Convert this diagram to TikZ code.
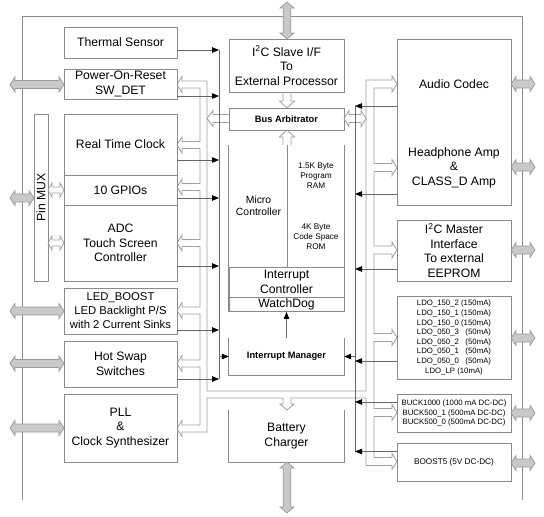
\documentclass[tikz,border=0pt]{standalone}
\usepackage{fontspec}
\setmainfont{Liberation Sans}
\usetikzlibrary{arrows.meta}
\definecolor{boxc}{HTML}{8A8A8A}
\definecolor{busc}{HTML}{A0A0A0}
\definecolor{intc}{HTML}{666666}
\definecolor{gfill}{HTML}{C9C9C9}
\definecolor{gline}{HTML}{9A9A9A}
\newcommand\fA{\fontsize{12.2}{14.6}\selectfont}
\newcommand\fLED{\fontsize{11.3}{14}\selectfont}
\newcommand\fS{\fontsize{7.8}{9.6}\selectfont}
\newcommand\fM{\fontsize{8.2}{10}\selectfont}
\newcommand\fMC{\fontsize{10.4}{12.5}\selectfont}
\newcommand\fB{\fontsize{9.3}{11}\selectfont\bfseries}
\newcommand\grayH[3]{\draw[garr] (#1,#3) -- (#1+5,#3-7.5) -- (#1+5,#3-4) -- (#2-5,#3-4) -- (#2-5,#3-7.5) -- (#2,#3) -- (#2-5,#3+7.5) -- (#2-5,#3+4) -- (#1+5,#3+4) -- (#1+5,#3+7.5) -- cycle;}
\newcommand\grayV[3]{\draw[garr] (#1,#2) -- (#1-7,#2+6) -- (#1-3.8,#2+6) -- (#1-3.8,#3-6) -- (#1-7,#3-6) -- (#1,#3) -- (#1+7,#3-6) -- (#1+3.8,#3-6) -- (#1+3.8,#2+6) -- (#1+7,#2+6) -- cycle;}
\newcommand\hollowLR[3]{\draw[bus] (#1,#3) -- (#1+4,#3-7) -- (#1+4,#3-3) -- (#2-4,#3-3) -- (#2-4,#3-7) -- (#2,#3) -- (#2-4,#3+7) -- (#2-4,#3+3) -- (#1+4,#3+3) -- (#1+4,#3+7) -- cycle;}
\tikzset{
  blk/.style={draw=boxc, line width=0.9pt, inner sep=0pt, align=center, font=\fA},
  lbl/.style={inner sep=0pt, align=center, font=\fA},
  boxln/.style={draw=boxc, line width=0.9pt},
  bus/.style={draw=busc, line width=0.8pt, line join=miter},
  intl/.style={draw=intc, line width=0.8pt},
  intr/.style={intl, -{Triangle[length=7pt,width=5.5pt,color=black]}},
  garr/.style={draw=gline, fill=gfill, line width=0.7pt},
  frm/.style={draw=boxc, line width=0.9pt},
  lw/.style={minimum width=113pt},
  cw/.style={minimum width=115pt},
  rw/.style={minimum width=114pt}
}
\begin{document}
\begin{tikzpicture}[x=1pt,y=-1pt]
\useasboundingbox (0,0) rectangle (544,517);
% frame
\draw[frm] (22,500) -- (22,16) -- (522,16) -- (522,500);

% ---------- left column ----------
\node[blk, lw, minimum height=31pt] (therm) at (120.5,42.5) {Thermal Sensor};
\node[blk, lw, minimum height=30pt] (por) at (120.5,84) {Power-On-Reset\\SW\_DET};
\node[blk, lw, minimum height=61pt] (rtc) at (120.5,144.5) {Real Time Clock};
\node[blk, lw, minimum height=30pt] (gpio) at (120.5,190) {10 GPIOs};
\node[blk, lw, minimum height=76pt] (adc) at (120.5,243) {ADC\\Touch Screen\\Controller};
\node[blk, minimum width=14pt, minimum height=167pt] (pinmux) at (41,197.5) {};
\node[rotate=90, font=\fA, inner sep=0pt] (pinmuxlbl) at (pinmux.center) {Pin MUX};
\node[blk, lw, font=\fLED, minimum height=46pt] (led) at (120.5,311) {LED\_BOOST\\LED Backlight P/S\\with 2 Current Sinks};
\node[blk, lw, minimum height=46pt] (hs) at (120.5,364) {Hot Swap\\Switches};
\node[blk, lw, minimum height=68pt] (pll) at (120.5,428) {PLL\\\&\\Clock Synthesizer};

% ---------- centre column ----------
\node[blk, cw, minimum height=53pt] (i2cs) at (286.5,65.5) {I\textsuperscript{2}C Slave I/F\\To\\External Processor};
\node[blk, cw, font=\fB, minimum height=22pt] (arb) at (286.5,119) {Bus Arbitrator};
\node[inner sep=0pt, cw, minimum height=166.5pt] (mc) at (286.5,228.25) {};
\draw[boxln] (mc.north west) -- (mc.south west) -- (mc.south east) -- (mc.north east);
\node[lbl, font=\fMC, minimum width=59pt, minimum height=122pt] (mcu) at (258.5,206) {Micro\\Controller};
\node[lbl, font=\fM, minimum width=56pt, minimum height=61pt] (ram) at (316,175.5) {1.5K Byte\\Program\\RAM};
\node[lbl, font=\fM, minimum width=56pt, minimum height=61pt] (rom) at (316,236.5) {4K Byte\\Code Space\\ROM};
\draw[boxln] (ram.north west) -- (rom.south west);
\node[blk, cw, minimum height=30pt] (ic) at (286.5,282) {Interrupt\\Controller};
\node[blk, cw, minimum height=14.5pt] (wd) at (286.5,304.25) {WatchDog};
\node[lbl, cw, font=\fB, minimum height=37pt] (im) at (286.5,356.5) {Interrupt Manager};
\draw[boxln] (im.north west) -- (im.south west) -- (im.south east) -- (im.north east);
\node[lbl, cw, minimum height=52pt] (bat) at (286.5,436) {Battery\\Charger};
\draw[boxln] (bat.north west) -- (bat.south west) -- (bat.south east) -- (bat.north east);

% ---------- right column ----------
\node[blk, rw, minimum height=166pt] (audio) at (454,122) {};
\node[lbl] (audiolbl) at (454,84) {Audio Codec};
\node[lbl] (hplbl) at (454,167.5) {Headphone Amp\\\&\\CLASS\_D Amp};
\node[blk, rw, minimum height=61pt] (i2cm) at (454,250.5) {I\textsuperscript{2}C Master\\Interface\\To external\\EEPROM};
\node[blk, rw, font=\fS, minimum height=83pt] (ldo) at (454,337.5) {LDO\_150\_2 (150mA)\\LDO\_150\_1 (150mA)\\LDO\_150\_0 (150mA)\\LDO\_050\_3\ \ \ (50mA)\\LDO\_050\_2\ \ \ (50mA)\\LDO\_050\_1\ \ \ (50mA)\\LDO\_050\_0\ \ \ (50mA)\\LDO\_LP (10mA)};
\node[blk, rw, font=\fS, minimum height=38pt] (buck) at (454,413) {BUCK1000 (1000 mA DC-DC)\\BUCK500\_1 (500mA DC-DC)\\BUCK500\_0 (500mA DC-DC)};
\node[blk, rw, font=\fM, minimum height=38pt] (boost) at (454,462) {BOOST5 (5V DC-DC)};

% ---------- hollow bus ----------
\draw[bus] (366,391) -- (207,391) -- (207,81) -- (182,81) -- (182,76.5) -- (177,84.5) -- (182,92.5) -- (182,88) -- (200,88)
 -- (200,141.5) -- (182,141.5) -- (182,137) -- (177,145) -- (182,153) -- (182,148.5) -- (200,148.5)
 -- (200,183.5) -- (182,183.5) -- (182,179) -- (177,187) -- (182,195) -- (182,190.5) -- (200,190.5)
 -- (200,239.5) -- (182,239.5) -- (182,235) -- (177,243) -- (182,251) -- (182,246.5) -- (200,246.5)
 -- (200,307) -- (182,307) -- (182,302.5) -- (177,310.5) -- (182,318.5) -- (182,314) -- (200,314)
 -- (200,360) -- (182,360) -- (182,355.5) -- (177,363.5) -- (182,371.5) -- (182,367) -- (200,367)
 -- (200,425) -- (182,425) -- (182,420.5) -- (177,428.5) -- (182,436.5) -- (182,432) -- (207,432) -- (207,398)
 -- (283,398) -- (283,404) -- (280,404) -- (287,410) -- (294,404) -- (291,404) -- (291,398) -- (366,398);
\draw[bus] (366,391) -- (366,80) -- (392,80) -- (392,76) -- (397,84) -- (392,92) -- (392,88) -- (374,88)
 -- (374,163.5) -- (392,163.5) -- (392,159.5) -- (397,167.5) -- (392,175.5) -- (392,171.5) -- (374,171.5)
 -- (374,246) -- (392,246) -- (392,242) -- (397,250) -- (392,258) -- (392,254) -- (374,254)
 -- (374,333.5) -- (392,333.5) -- (392,329.5) -- (397,337.5) -- (392,345.5) -- (392,341.5) -- (374,341.5)
 -- (374,408.5) -- (392,408.5) -- (392,404.5) -- (397,412.5) -- (392,420.5) -- (392,416.5) -- (374,416.5)
 -- (374,457.5) -- (392,457.5) -- (392,453.5) -- (397,461.5) -- (392,469.5) -- (392,465.5) -- (366,465.5) -- (366,398);
% bus arbitrator links
\draw[bus] (arb.west |- 0,114.5) -- (213,114.5) -- (213,110.5) -- (207,118.5) -- (213,126.5) -- (213,122.5) -- (arb.west |- 0,122.5);
\draw[bus] (344,118.5) -- (349,110.5) -- (349,114.5) -- (361,114.5) -- (361,110.5) -- (366,118.5) -- (361,126.5) -- (361,122.5) -- (349,122.5) -- (349,126.5) -- cycle;
\draw[bus] (283,92) -- (283,101) -- (279.5,101) -- (287,108) -- (294.5,101) -- (291,101) -- (291,92);
\draw[bus] (283,145) -- (283,137) -- (279.5,137) -- (287,130) -- (294.5,137) -- (291,137) -- (291,145);
% pin mux links
\hollowLR{48}{64}{190}
\hollowLR{48}{64}{243}

% ---------- interrupt lines ----------
\draw[intl] (219,50) -- (219,379);
\foreach \yy in {50,96,160,198,266,330,379} \draw[intr] (177,\yy) -- (219,\yy);
\draw[intr] (219,356.5) -- (im.west);
\draw[intl] (355,106) -- (355,451.5);
\foreach \yy in {106,194,269,361,402,451.5} \draw[intr] (397,\yy) -- (355,\yy);
\draw[intr] (355,356.5) -- (im.east);
\draw[intr] (im.north) -- (wd.south);

% ---------- external gray arrows ----------
\grayH{10}{64}{84.5}
\grayH{10}{34}{198}
\grayH{10}{64}{311}
\grayH{10}{64}{363.5}
\grayH{10}{64}{428}
\grayH{511}{535}{84}
\grayH{511}{535}{167}
\grayH{511}{535}{250}
\grayH{511}{535}{338}
\grayH{511}{535}{413}
\grayH{511}{535}{463}
\grayV{287}{2}{39}
\grayV{287}{462}{513}
\end{tikzpicture}
\end{document}
